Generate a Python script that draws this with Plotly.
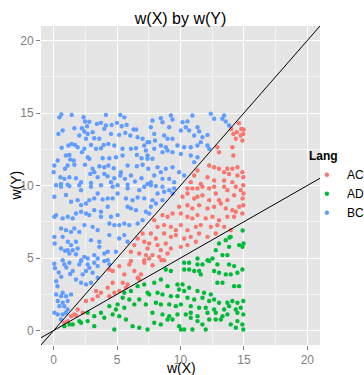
import plotly.graph_objects as go

# ---------------- data ----------------
bc_x = [0.6,0.45,1.42,2.36,2.47,2.81,4.12,5.25,5.57,3.41,3.73,4.12,4.57,4.99,5.36,5.75,6.3,6.51,0.71,1.63,2.23,2.63,2.42,2.68,3.07,3.99,4.52,5.17,5.65,6.04,6.62,7.01,7.4,0.37,2.02,2.55,3.2,3.6,1.42,1.68,1.89,1.16,0.63,2.23,2.42,2.94,3.34,3.73,3.94,4.31,4.78,5.43,6.09,6.49,7.14,7.27,0.97,1.58,1.24,1.3,2.68,2.81,3.86,4.39,4.91,5.43,6.56,6.93,7.4,0.05,0.32,0.89,1.1,1.63,2.47,3.07,3.6,3.99,4.31,4.73,5.3,5.83,6.56,7.01,7.46,0.0,0.53,0.84,1.24,1.76,2.16,2.89,3.2,3.47,3.99,4.25,4.78,5.25,5.62,6.09,6.41,6.93,0.58,1.1,2.94,4.52,5.83,7.4,
        7.79,7.66,8.45,8.58,9.24,9.37,9.11,10.16,10.55,10.94,10.42,10.68,10.03,11.34,11.47,12.39,12.65,13.3,13.57,13.44,13.83,7.93,8.71,9.37,8.98,11.08,11.73,12.13,11.6,7.53,7.99,8.45,8.84,9.76,10.29,10.81,11.34,12.13,12.26,7.93,8.58,8.98,9.37,10.03,10.81,11.34,7.4,7.79,11.08,8.19,8.84,9.37,9.89,10.29,7.93,8.45,8.58,9.11,9.5,7.66,
        0.19,0.58,1.24,2.02,2.16,2.94,3.73,4.65,5.04,5.83,6.75,7.14,0.06,0.97,1.37,1.89,2.16,2.55,2.81,3.2,3.47,3.86,4.26,4.65,5.04,5.7,6.22,6.62,7.14,0.06,0.19,0.71,1.11,1.5,1.76,2.16,2.55,2.81,3.2,3.73,3.73,4.26,4.52,5.04,5.83,6.09,6.49,7.27,4.39,4.78,5.17,5.57,5.96,6.62,7.01,0.58,0.97,1.37,1.63,2.02,3.07,3.47,2.42,4.39,5.57,0.06,0.71,1.11,1.76,2.94,3.6,5.17,5.83,1.37,1.11,1.5,1.89,0.58,3.6,4.26,4.91,1.24,1.76,2.42,2.68,3.2,3.47,3.99,0.71,2.16,4.26,
        7.66,8.06,8.58,9.11,9.5,9.37,8.71,8.19,7.79,8.58,7.66,8.06,7.53,
        0.84,1.24,2.16,2.02,2.68,3.2,3.47,3.99,4.39,1.5,1.76,2.29,2.55,2.81,3.07,2.16,2.55,2.94,3.47,0.19,0.71,0.58,0.97,0.32,0.71,0.45,0.84,1.1,0.06,0.32,0.71,0.58,0.97,1.1,1.37,
        0.05,0.1,0.9,1.0,0.6,0.2,1.3,0.4,0.08,0.3]
bc_y = [14.9,14.7,14.87,14.71,14.41,14.4,14.87,14.87,14.7,14.25,14.32,14.14,14.18,14.32,14.09,14.18,13.86,13.86,13.79,13.95,13.95,14.09,13.72,13.56,13.68,13.91,13.56,13.49,13.63,13.45,13.33,13.22,12.99,13.56,13.45,13.22,13.26,13.22,12.87,12.8,12.64,12.76,12.6,12.3,12.53,12.8,12.53,12.57,12.8,12.87,12.76,12.53,12.53,12.57,12.76,12.41,12.07,11.72,12.11,11.8,11.95,11.84,11.88,11.88,11.95,12.07,12.11,11.88,11.84,11.38,11.72,11.15,11.38,11.43,11.43,11.15,11.33,11.26,11.38,11.19,10.92,11.38,11.33,11.43,11.15,10.92,10.57,10.46,10.57,10.5,10.23,10.8,10.92,10.57,10.8,10.64,10.5,10.69,10.46,10.69,10.28,10.5,10.11,10.05,10.18,10.23,10.05,10.11,
        14.48,14.02,14.64,14.37,14.83,14.55,14.02,14.37,14.42,14.83,14.02,13.79,13.79,14.02,13.73,14.95,14.6,14.6,14.42,14.83,14.14,13.56,13.45,13.22,13.22,13.45,13.33,13.49,12.99,12.99,13.1,12.76,12.64,12.76,12.64,12.64,12.76,12.76,12.53,12.53,12.3,12.41,12.3,12.18,12.07,11.95,12.07,11.84,11.61,11.26,11.15,11.26,10.92,10.69,10.69,10.92,10.46,10.46,10.23,10.23,
        10.02,9.91,9.96,10.02,9.68,9.91,10.02,9.91,10.02,9.8,9.68,9.91,9.22,9.34,8.88,8.99,8.65,8.76,8.99,9.11,9.45,9.04,9.11,9.11,9.45,9.11,8.99,9.17,9.11,7.84,7.96,7.73,7.84,7.73,8.07,8.19,8.07,7.96,8.3,8.19,7.84,8.53,7.84,7.96,8.53,8.42,8.3,8.19,7.38,7.27,7.27,7.38,7.27,7.38,7.61,7.04,6.92,6.8,7.04,6.8,7.15,6.92,7.27,6.58,6.58,6.46,6.46,6.12,6.12,6.23,6.12,6.35,6.12,5.89,5.54,5.54,5.66,5.66,5.77,5.43,5.43,5.31,5.26,5.08,4.97,5.2,4.97,5.31,4.85,4.85,4.85,
        10.02,9.96,9.91,9.68,9.8,9.45,9.57,9.45,8.99,8.99,8.53,8.76,8.07,
        4.56,4.67,4.79,4.56,4.56,4.67,4.44,4.79,4.56,4.1,3.52,3.87,4.1,4.33,3.98,3.29,3.18,3.29,3.64,2.49,2.6,2.37,2.37,2.03,1.91,1.68,1.68,2.03,1.22,1.11,1.11,0.76,1.22,1.45,2.49,
        4.6,4.3,5.5,4.35,3.7,3.4,3.9,4.0,6.0,3.05]

ac_x = [14.0,14.17,14.44,14.75,14.98,14.36,14.88,14.95,12.91,13.04,14.09,14.17,12.26,12.65,13.04,13.7,14.09,14.49,13.44,13.83,14.49,14.88,14.95,11.34,11.08,12.13,12.65,13.44,14.09,10.81,11.6,14.6,14.8,
        7.01,6.62,6.36,7.14,6.09,6.75,7.27,7.4,7.14,
        10.55,10.94,11.34,11.73,12.26,12.65,13.44,13.7,14.36,14.75,14.95,
        10.16,10.55,11.08,11.34,11.73,12.26,12.78,13.04,13.7,14.23,14.9,14.97,
        9.89,10.55,10.94,11.47,12.13,12.65,13.18,13.57,14.09,14.62,14.95,14.88,
        7.93,8.58,8.98,9.37,10.03,10.55,10.94,11.34,11.99,12.52,13.04,13.7,14.23,14.36,
        8.19,8.71,9.24,9.63,10.03,10.55,11.21,11.6,12.39,12.91,13.44,13.96,
        7.66,8.06,8.71,9.24,9.63,10.29,10.81,11.47,12.13,12.78,
        7.53,8.19,8.84,9.24,10.03,10.55,11.21,8.45,
        7.79,8.32,8.98,8.71,7.53,
        4.39,4.65,5.17,5.57,5.96,6.36,6.62,6.88,7.14,6.09,5.44,5.83,6.75,4.65,4.26,3.73,3.47,3.34,2.55,3.07,1.89,2.29,1.63,1.37,1.76,1.1,0.84,4.39,4.78,5.17,5.7,
        7.8,8.5]
ac_y = [13.9,13.56,13.68,13.45,13.86,13.22,13.1,13.56,12.64,12.3,12.64,12.07,11.38,11.26,11.15,11.15,11.15,11.26,10.92,10.8,10.69,10.92,10.57,11.03,10.69,10.57,10.34,10.34,10.23,10.23,10.11,14.3,13.9,
        6.69,6.35,5.89,6.12,5.43,5.31,5.2,5.66,4.85,
        9.8,9.8,9.8,9.91,9.8,9.91,9.91,9.68,9.91,9.68,10.02,
        9.22,9.45,9.1,9.22,9.33,8.99,9.45,8.99,8.99,9.33,9.1,9.45,
        8.53,8.64,8.42,8.64,8.42,8.53,8.76,8.42,8.3,8.53,8.64,8.07,
        7.61,7.96,7.84,8.07,8.07,7.84,7.73,7.96,7.73,7.84,7.61,7.84,7.84,8.19,
        7.15,7.27,7.15,6.92,7.27,6.92,7.15,7.27,7.15,7.27,7.15,6.92,
        6.69,6.35,6.69,6.46,6.58,6.35,6.46,6.69,6.46,6.69,
        6.0,5.89,6.0,5.66,5.77,5.89,6.12,5.54,
        5.2,5.08,5.31,4.85,4.97,
        4.21,4.1,4.44,3.87,4.56,4.1,3.64,3.87,4.67,4.79,3.29,3.18,3.52,3.29,2.95,2.6,2.37,2.72,2.03,2.14,1.45,1.22,1.11,0.99,1.04,0.65,0.53,2.37,2.6,2.72,2.95,
        4.5,4.85]

ad_x = [13.04,13.57,13.96,13.83,12.78,13.31,13.7,14.62,14.88,14.97,14.9,13.86,12.52,11.34,12.13,
        5.57,6.09,6.62,7.14,7.4,5.44,5.96,6.36,6.75,7.27,5.04,5.57,4.91,4.39,4.65,5.17,5.7,3.73,3.99,3.2,2.68,2.02,1.5,0.84,1.24,4.78,6.22,6.75,7.4,3.2,2.16,2.68,
        10.29,10.68,11.34,11.73,12.26,12.91,13.83,14.23,
        8.84,9.24,10.29,10.68,11.08,11.47,11.6,12.65,13.04,13.57,13.96,14.49,14.88,
        7.93,8.45,8.98,9.76,10.16,9.89,10.29,10.68,11.34,11.86,12.39,12.91,13.31,14.23,14.62,
        7.53,8.19,8.58,9.24,9.76,10.55,11.08,11.73,12.26,12.65,13.04,13.7,14.09,14.49,14.95,
        8.06,8.45,9.11,9.63,10.03,10.81,11.47,11.99,12.65,13.44,13.83,14.36,14.75,
        7.79,8.58,9.11,9.76,10.42,10.81,11.34,12.13,12.78,13.31,13.7,14.49,14.95,
        7.93,8.45,8.98,9.37,9.89,10.81,11.34,11.73,12.26,12.78,13.18,13.96,14.49,14.88,
        10.03,10.29,10.94,11.99,14.36,14.95]
ad_y = [6.0,6.23,6.46,5.77,5.54,5.2,5.2,5.89,5.77,6.0,6.9,6.41,4.97,4.97,4.85,
        2.6,2.72,3.06,3.18,2.6,2.26,2.14,1.8,2.14,1.8,1.8,1.57,1.45,1.68,1.11,0.99,0.76,1.22,0.88,0.99,0.65,0.65,0.42,0.3,0.42,0.07,0.3,0.19,0.07,0.3,0.53,1.22,
        4.67,4.67,4.56,4.56,4.79,4.56,4.56,4.44,
        4.21,4.1,4.21,4.21,4.1,4.1,3.87,4.1,3.98,3.87,3.87,3.98,4.21,
        3.29,3.52,3.06,3.18,3.18,2.83,2.72,2.95,2.72,2.6,2.49,3.29,3.29,3.06,3.06,
        2.49,2.6,2.49,2.37,2.37,2.26,2.14,2.26,2.03,2.14,1.91,1.91,2.03,1.91,2.03,
        1.91,1.8,1.8,1.68,1.8,1.68,1.57,1.57,1.45,1.45,1.68,1.45,1.57,
        1.22,1.11,0.99,1.11,1.11,1.22,0.99,1.22,1.22,0.99,1.11,1.22,1.11,
        0.53,0.42,0.76,0.76,0.3,0.88,0.65,0.42,0.76,0.76,0.76,0.42,0.65,0.42,
        0.07,0.07,0.07,0.07,0.19,0.07]

series_names = ["AC", "AD", "BC"]
series_colors = ["#F8766D", "#00BA38", "#619CFF"]
line_slopes = [1.0, 0.5]
axis_limits = [-1, 21]
tick_vals = [0, 5, 10, 15, 20]

FONT = "Liberation Sans, Arial, Helvetica, sans-serif"

fig = go.Figure()
for name, col, xs, ys in zip(series_names, series_colors,
                             [ac_x, ad_x, bc_x], [ac_y, ad_y, bc_y]):
    fig.add_trace(go.Scatter(x=xs, y=ys, mode="markers", name=name,
                             marker=dict(color=col, size=4.4, line=dict(width=0))))

for s in line_slopes:
    fig.add_trace(go.Scatter(x=axis_limits, y=[s * v for v in axis_limits],
                             mode="lines", line=dict(color="black", width=1),
                             showlegend=False, hoverinfo="skip"))

axis_common = dict(
    range=axis_limits, tickvals=tick_vals, ticktext=[str(t) for t in tick_vals],
    showgrid=True, gridcolor="white", gridwidth=1.1,
    minor=dict(dtick=2.5, tick0=0, showgrid=True, gridcolor="#F2F2F2", gridwidth=0.6),
    zeroline=False, showline=False,
    ticks="outside", ticklen=4, tickwidth=1, tickcolor="#7F7F7F",
    tickfont=dict(family=FONT, size=12, color="#7F7F7F"),
    automargin=False, title=dict(text=""),
)

fig.update_layout(
    width=364, height=375,
    margin=dict(l=41, r=44, t=26, b=30, autoexpand=False),
    paper_bgcolor="white", plot_bgcolor="#E5E5E5",
    font=dict(family=FONT, color="black"),
    title=dict(text="w(X) by w(Y)", x=0.496, xanchor="center", xref="container",
               y=0.952, yanchor="middle", yref="container",
               font=dict(family=FONT, size=16, color="black")),
    xaxis=axis_common,
    yaxis=axis_common,
    legend=dict(title=dict(text="<b>Lang</b>", font=dict(size=12, family=FONT)),
                font=dict(size=12, family=FONT),
                xref="paper", yref="paper",
                x=0.953, xanchor="left", y=0.498, yanchor="middle",
                bgcolor="rgba(0,0,0,0)", itemwidth=30,
                tracegroupgap=0),
    showlegend=True,
    annotations=[
        dict(text="w(X)", xref="paper", yref="paper", x=0.5, y=-0.072,
             xanchor="center", yanchor="middle", showarrow=False,
             font=dict(family=FONT, size=14, color="black")),
        dict(text="w(Y)", xref="paper", yref="paper", x=-0.093, y=0.5,
             xanchor="center", yanchor="middle", textangle=-90, showarrow=False,
             font=dict(family=FONT, size=14, color="black")),
    ],
)

# remove the default 8px page margin so the figure sits at the window's corner
fig.write_html("out.html",
               config={"displayModeBar": False},
               post_script="document.body.style.margin='0';document.body.style.overflow='hidden';")
